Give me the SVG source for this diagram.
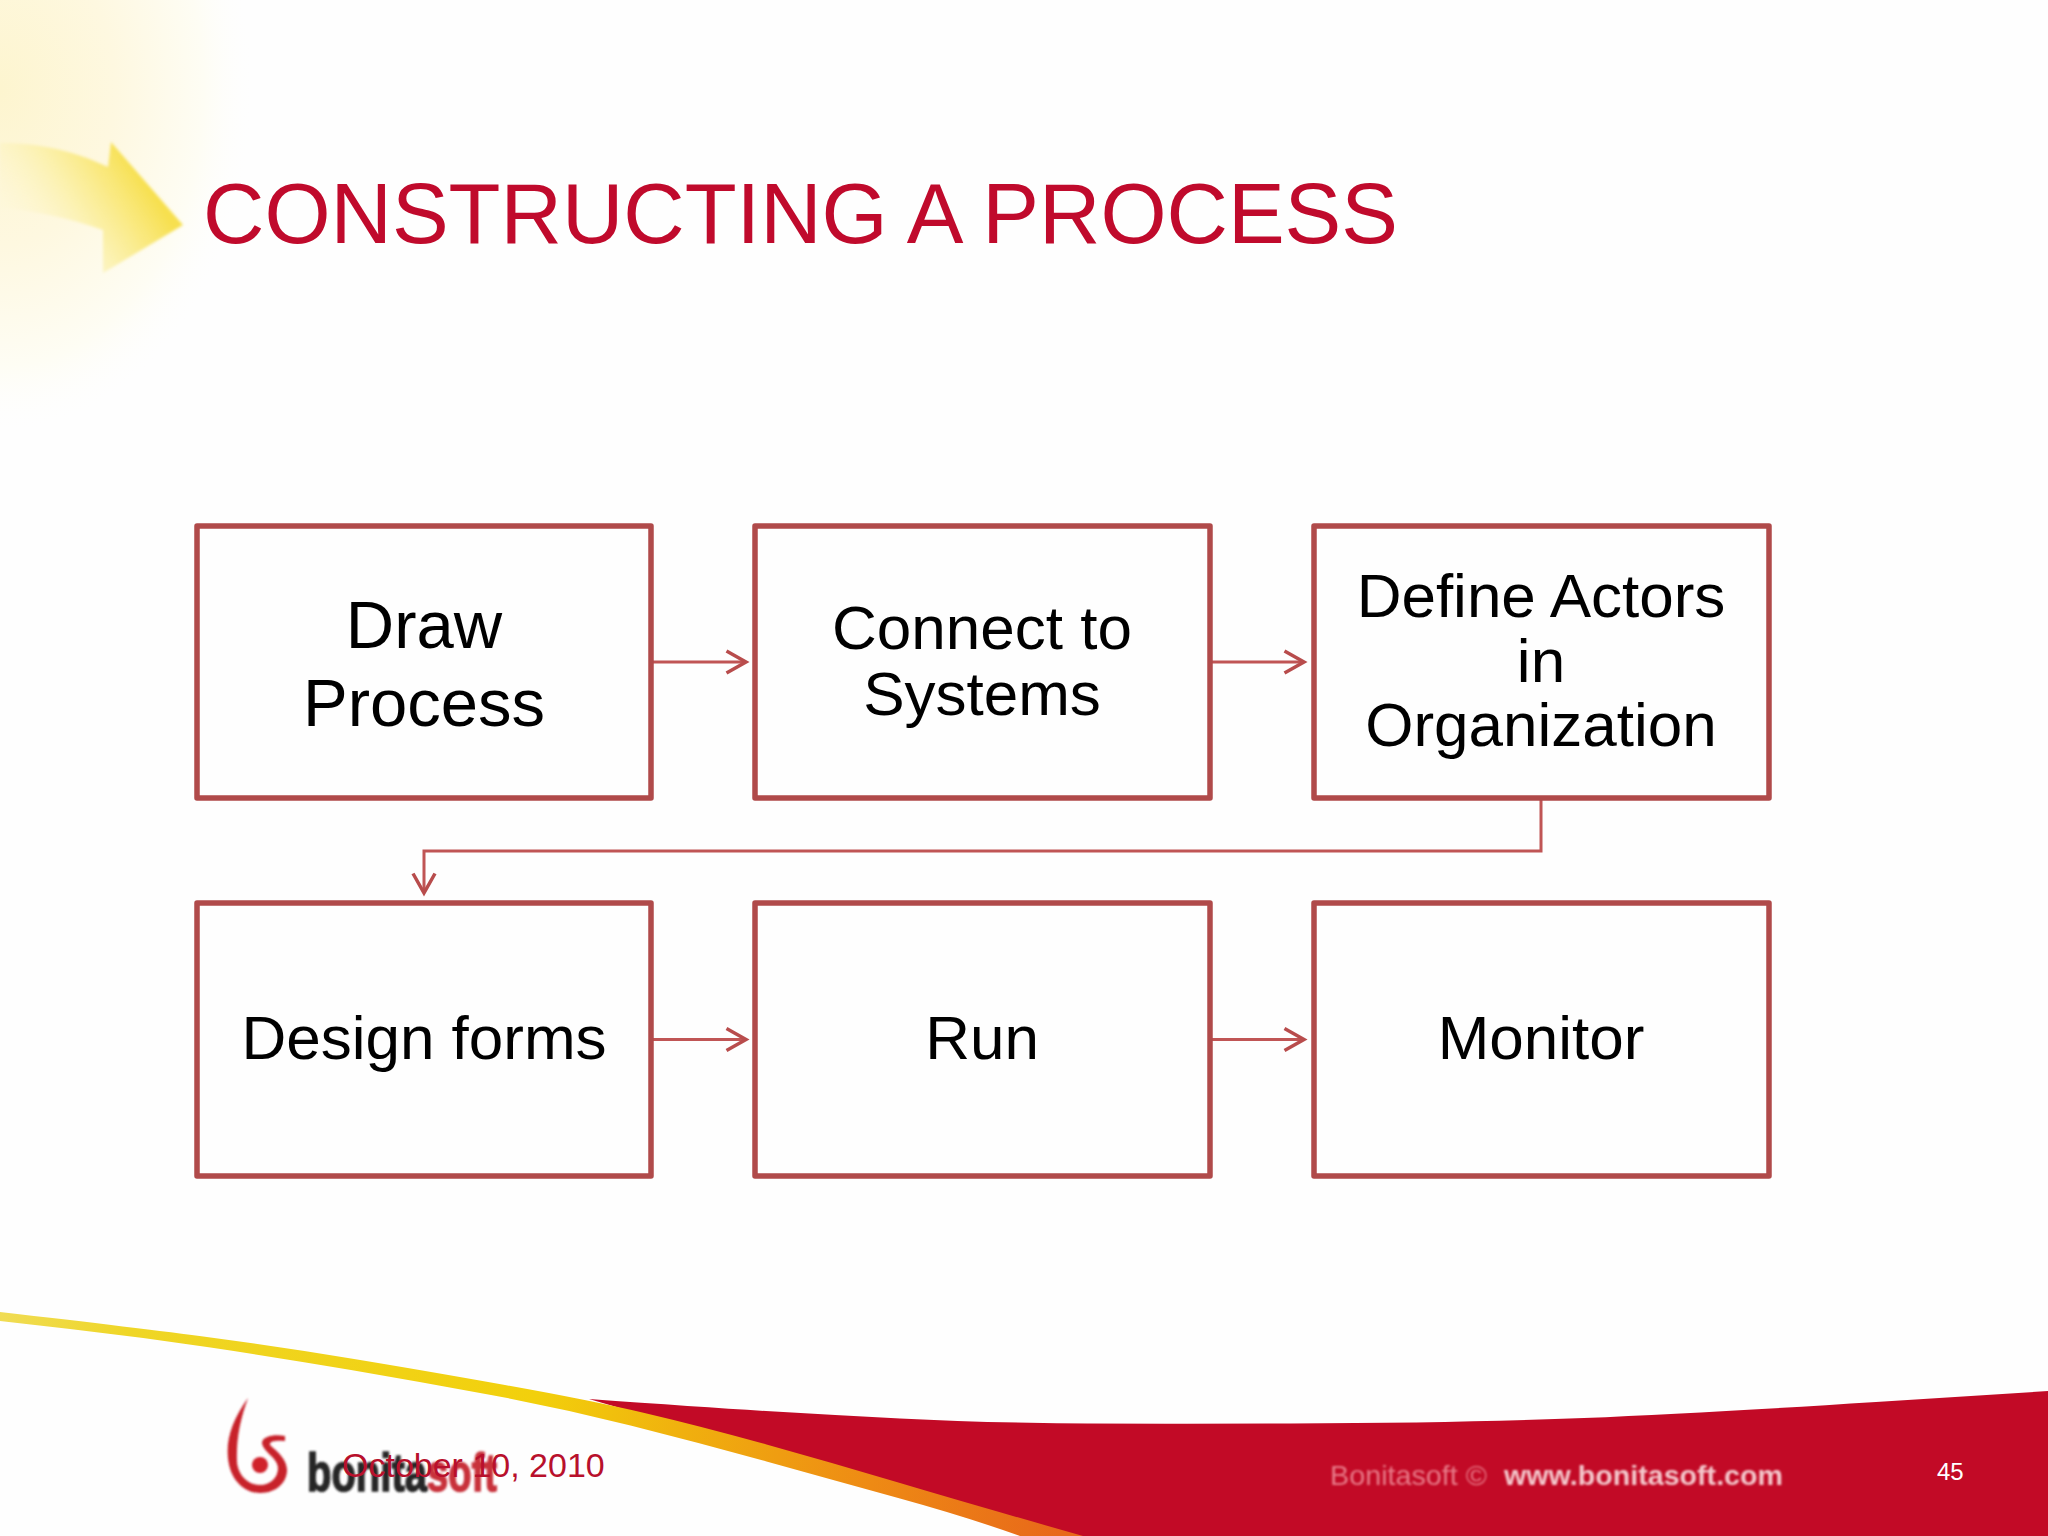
<svg xmlns="http://www.w3.org/2000/svg" width="2048" height="1536" viewBox="0 0 2048 1536">
<style>
.box{fill:#fefefe;stroke:#b04a4a;stroke-width:5.5;stroke-linejoin:round}
.lbl{font-family:"Liberation Sans",Arial,sans-serif;fill:#000;text-anchor:middle;font-size:62px}
.conn{fill:none;stroke:#c05555;stroke-width:3;marker-end:url(#head)}
.foot{font-family:"Liberation Sans",Arial,sans-serif}
</style>
<defs>
<marker id="head" markerUnits="userSpaceOnUse" markerWidth="30" markerHeight="30" refX="27" refY="15" orient="auto" overflow="visible">
<path d="M7.5,4 L27,15 L7.5,26" fill="none" stroke="#b84c4c" stroke-width="3.5"/>
</marker>
<radialGradient id="glow" gradientUnits="userSpaceOnUse" cx="0" cy="90" r="1" gradientTransform="translate(0 90) scale(255 345) translate(0 -90)">
<stop offset="0" stop-color="#fdf5cf"/>
<stop offset="0.45" stop-color="#fef8e0"/>
<stop offset="0.8" stop-color="#fefdf4"/>
<stop offset="1" stop-color="#fefefe" stop-opacity="0"/>
</radialGradient>
<linearGradient id="arrow" gradientUnits="userSpaceOnUse" x1="150" y1="190" x2="40" y2="260">
<stop offset="0" stop-color="#f7e050"/>
<stop offset="0.5" stop-color="#fbefa0" stop-opacity="0.85"/>
<stop offset="1" stop-color="#fdf6d0" stop-opacity="0.2"/>
</linearGradient>
<linearGradient id="band" gradientUnits="userSpaceOnUse" x1="0" y1="1315" x2="1060" y2="1536">
<stop offset="0" stop-color="#f0dc55"/>
<stop offset="0.12" stop-color="#efd626"/>
<stop offset="0.5" stop-color="#f2d00c"/>
<stop offset="0.64" stop-color="#f0b00e"/>
<stop offset="0.82" stop-color="#ee8a14"/>
<stop offset="1" stop-color="#e8681a"/>
</linearGradient>
<filter id="soft" x="-10%" y="-10%" width="120%" height="120%"><feGaussianBlur stdDeviation="0.8"/></filter>
<filter id="soft2" x="-20%" y="-20%" width="140%" height="140%"><feGaussianBlur stdDeviation="1.5"/></filter>
</defs>
<rect width="2048" height="1536" fill="#fefefe"/>
<g id="background">
<rect x="0" y="0" width="260" height="440" fill="url(#glow)"/>
<path d="M0,143 C45,143 78,153 108,167 L111,142 L183,225 L103,273 L103,230 C70,218 30,210 0,208 Z" fill="url(#arrow)" filter="url(#soft2)"/>
<path d="M589,1399 Q700,1407 766,1411 Q833,1415 900,1418.5 Q967,1422 1043,1423 Q1120,1424 1291,1423.5 Q1463,1423 1584,1418 Q1705,1413 1876,1402 L2048,1391 L2048,1536 L1060,1536 Z" fill="#c20a26"/>
<path d="M0,1312 Q140,1328 210.5,1337.5 Q281,1347 351,1358.5 Q421,1370 505,1385 Q589,1400 644.5,1413 Q700,1426 766.5,1444.5 Q833,1463 900,1483 Q967,1503 1083,1536 L1020,1536 Q967,1517 900,1498.5 Q833,1480 766.5,1461.5 Q700,1443 630.5,1425.5 Q561,1408 491,1395 Q421,1382 351,1370 Q281,1358 210.5,1347.5 Q140,1337 70,1329 L0,1321 Z" fill="url(#band)"/>
</g>
<g id="logo" filter="url(#soft)">
<path d="M248,1398 C232,1420 226,1440 228,1458 C230,1480 244,1493 260,1493 C277,1493 287,1482 287,1470 C287,1458 275,1450 270,1445 C269,1441 276,1440 285,1441 L285,1436 C275,1434 262,1436 262,1443 C263,1452 278,1458 278,1468 C278,1478 270,1485 260,1485 C248,1485 238,1475 237,1462 C236,1440 240,1420 248,1398 Z" fill="#c8202c"/>
<circle cx="260" cy="1465" r="8" fill="#d0202c"/>
<text class="foot" x="307" y="1491" font-size="53" font-weight="700" fill="#262626" stroke="#262626" stroke-width="1.5" textLength="120" lengthAdjust="spacingAndGlyphs">bonita</text>
<text class="foot" x="427" y="1491" font-size="53" font-weight="700" fill="#c8303a" stroke="#c8303a" stroke-width="1.5" textLength="70" lengthAdjust="spacingAndGlyphs">soft</text>
</g>
<text id="title" x="203" y="243" font-family="'Liberation Sans',Arial,sans-serif" font-size="85" fill="#c00a2c" textLength="1195" lengthAdjust="spacing">CONSTRUCTING A PROCESS</text>
<g id="connectors">
<path class="conn" d="M651,662 H746"/>
<path class="conn" d="M1210,662 H1304"/>
<path class="conn" d="M1541,798 V851 H424 V893"/>
<path class="conn" d="M651,1039.5 H746"/>
<path class="conn" d="M1210,1039.5 H1304"/>
</g>
<g id="node-draw"><rect class="box" x="197" y="526" width="454" height="272"/>
<text class="lbl" style="font-size:67px"><tspan x="424" y="648">Draw</tspan><tspan x="424" y="726">Process</tspan></text></g>
<g id="node-connect"><rect class="box" x="755" y="526" width="455" height="272"/>
<text class="lbl"><tspan x="982" y="649">Connect to</tspan><tspan x="982" y="715">Systems</tspan></text></g>
<g id="node-actors"><rect class="box" x="1314" y="526" width="455" height="272"/>
<text class="lbl"><tspan x="1541" y="617">Define Actors</tspan><tspan x="1541" y="682">in</tspan><tspan x="1541" y="746">Organization</tspan></text></g>
<g id="node-forms"><rect class="box" x="197" y="903" width="454" height="273"/>
<text class="lbl" x="424" y="1059">Design forms</text></g>
<g id="node-run"><rect class="box" x="755" y="903" width="455" height="273"/>
<text class="lbl" x="982" y="1059">Run</text></g>
<g id="node-monitor"><rect class="box" x="1314" y="903" width="455" height="273"/>
<text class="lbl" x="1541" y="1059">Monitor</text></g>
<g id="footer">
<text class="foot" x="342" y="1477" font-size="34" fill="#b8102c">October 10, 2010</text>
<g filter="url(#soft)"><text class="foot" x="1330" y="1485" font-size="28" fill="#e87a88" textLength="157" lengthAdjust="spacingAndGlyphs">Bonitasoft ©</text>
<text class="foot" x="1504" y="1485" font-size="28" font-weight="700" fill="#f4c8cc" textLength="279" lengthAdjust="spacingAndGlyphs">www.bonitasoft.com</text></g>
<text class="foot" x="1937" y="1480" font-size="24" fill="#fff">45</text>
</g>
</svg>
